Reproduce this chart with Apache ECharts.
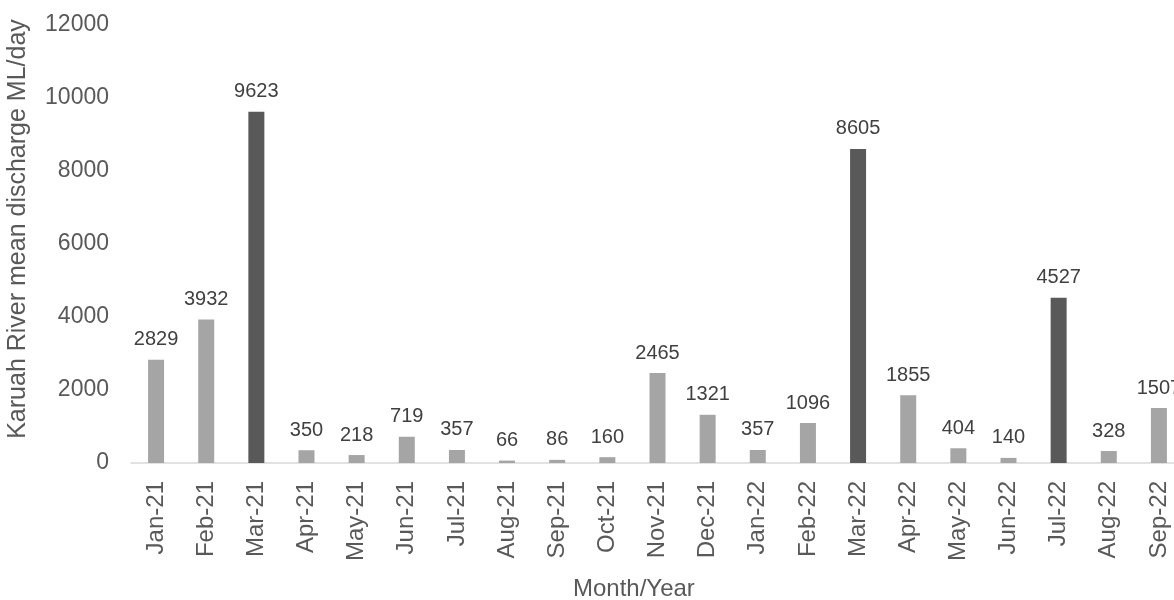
<!DOCTYPE html>
<html>
<head>
<meta charset="utf-8">
<script src="https://cdn.jsdelivr.net/npm/echarts@6/dist/echarts.min.js"></script>
<style>
  html, body { margin: 0; padding: 0; background: #fff; }
  #chart { width: 1174px; height: 600px; }
</style>
</head>
<body>
<div id="chart"></div>
<script>
// monthly mean discharge, Karuah River
const months = ['Jan-21', 'Feb-21', 'Mar-21', 'Apr-21', 'May-21', 'Jun-21', 'Jul-21', 'Aug-21', 'Sep-21', 'Oct-21', 'Nov-21', 'Dec-21',
  'Jan-22', 'Feb-22', 'Mar-22', 'Apr-22', 'May-22', 'Jun-22', 'Jul-22', 'Aug-22', 'Sep-22'];
const discharge = [2829, 3932, 9623, 350, 218, 719, 357, 66, 86, 160, 2465, 1321,
  357, 1096, 8605, 1855, 404, 140, 4527, 328, 1507];
// months drawn in the darker shade
const floodMonths = ['Mar-21', 'Mar-22', 'Jul-22'];

const textColor = '#595959';
const fontFamily = 'Liberation Sans, Arial, sans-serif';

const chart = echarts.init(document.getElementById('chart'));

const option = {
  animation: false,
  grid: { left: 131, right: -10, top: 25, bottom: 137, outerBoundsMode: 'none' },
  xAxis: {
    type: 'category',
    data: months,
    axisLine: { lineStyle: { color: '#d9d9d9', width: 1.5 } },
    axisTick: { show: false },
    axisLabel: {
      rotate: 90,
      interval: 0,
      margin: 18,
      color: textColor,
      fontSize: 24,
      fontFamily: fontFamily
    }
  },
  yAxis: {
    type: 'value',
    min: 0,
    max: 12000,
    interval: 2000,
    name: 'Karuah River mean discharge ML/day',
    nameLocation: 'middle',
    nameGap: 100,
    nameTextStyle: { color: textColor, fontSize: 25, fontFamily: fontFamily, padding: [0, 0, 0, 30] },
    splitLine: { show: false },
    axisLine: { show: false },
    axisTick: { show: false },
    axisLabel: {
      color: textColor,
      fontSize: 23,
      fontFamily: fontFamily,
      margin: 22,
      formatter: v => String(v)
    }
  },
  graphic: [{
    type: 'text',
    left: 573,
    top: 577,
    style: { text: 'Month/Year', fill: textColor, font: '24px ' + fontFamily }
  }],
  series: [{
    type: 'bar',
    barWidth: 16,
    data: discharge.map((v, i) => ({
      value: v,
      itemStyle: { color: floodMonths.includes(months[i]) ? '#595959' : '#a5a5a5' }
    })),
    label: {
      show: true,
      position: 'top',
      distance: 10,
      color: '#404040',
      fontSize: 20,
      fontFamily: fontFamily
    }
  }]
};

chart.setOption(option);
</script>
</body>
</html>
